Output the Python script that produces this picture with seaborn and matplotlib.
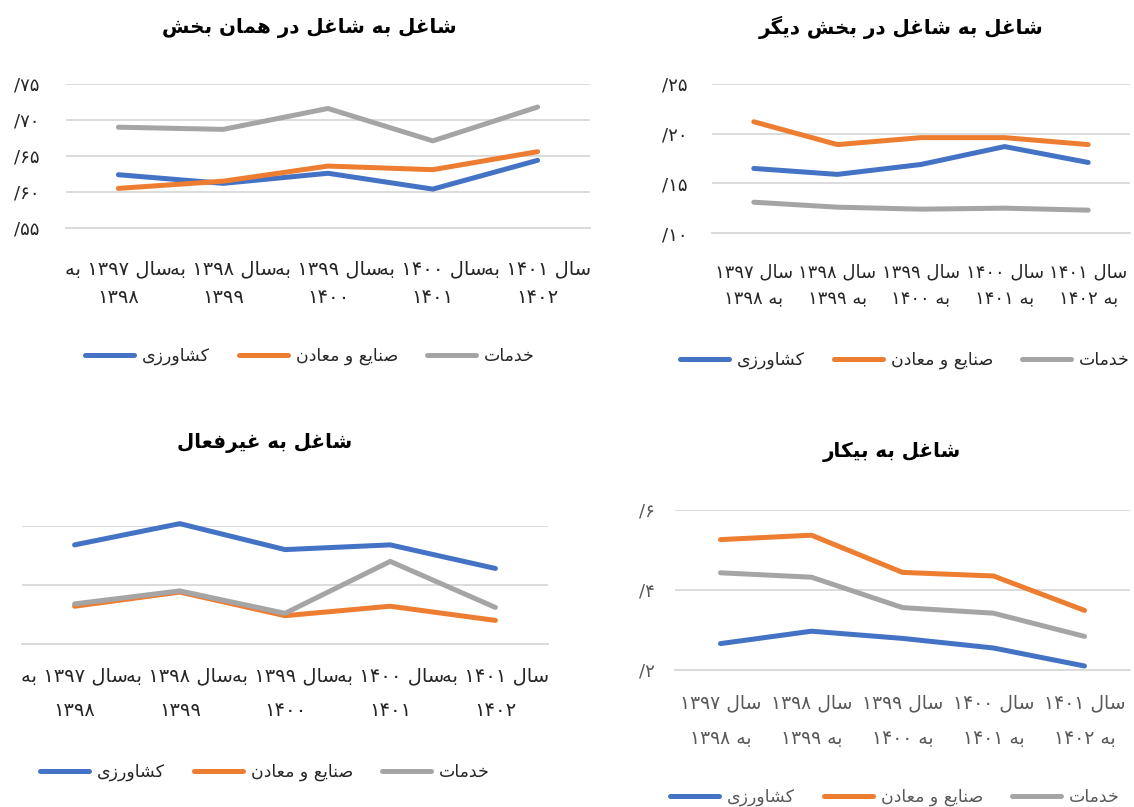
import re
import numpy as np
import matplotlib
matplotlib.use('Agg')
import matplotlib.pyplot as plt
import seaborn as sns

# ---- data ----
categories = ["سال ۱۳۹۷ به ۱۳۹۸", "سال ۱۳۹۸ به ۱۳۹۹", "سال ۱۳۹۹ به ۱۴۰۰",
              "سال ۱۴۰۰ به ۱۴۰۱", "سال ۱۴۰۱ به ۱۴۰۲"]
series_names = ["کشاورزی", "صنایع و معادن", "خدمات"]
colors = ["#4472C4", "#ED7D31", "#A5A5A5"]

same_agri = [62.4, 61.2, 62.6, 60.4, 64.4]
same_ind = [60.5, 61.5, 63.6, 63.1, 65.6]
same_serv = [69.0, 68.7, 71.6, 67.1, 71.8]

other_agri = [16.5, 15.9, 16.9, 18.7, 17.1]
other_ind = [21.2, 18.9, 19.6, 19.6, 18.9]
other_serv = [13.1, 12.6, 12.4, 12.5, 12.3]

inactive_agri = [13.4, 15.2, 13.0, 13.4, 11.4]
inactive_ind = [8.2, 9.4, 7.4, 8.2, 7.0]
inactive_serv = [8.4, 9.5, 7.6, 12.0, 8.1]

unemp_agri = [2.66, 2.97, 2.79, 2.55, 2.10]
unemp_ind = [5.26, 5.37, 4.44, 4.35, 3.49]
unemp_serv = [4.43, 4.32, 3.56, 3.42, 2.84]

titles = ["شاغل به شاغل در همان بخش", "شاغل به شاغل در بخش دیگر",
          "شاغل به غیرفعال", "شاغل به بیکار"]

# ---- minimal persian shaping (no arabic_reshaper available) ----
FORMS = {
    'ا': ('\uFE8D', '\uFE8E', None, None),
    'ب': ('\uFE8F', '\uFE90', '\uFE91', '\uFE92'),
    'ت': ('\uFE95', '\uFE96', '\uFE97', '\uFE98'),
    'خ': ('\uFEA5', '\uFEA6', '\uFEA7', '\uFEA8'),
    'د': ('\uFEA9', '\uFEAA', None, None),
    'ر': ('\uFEAD', '\uFEAE', None, None),
    'ز': ('\uFEAF', '\uFEB0', None, None),
    'س': ('\uFEB1', '\uFEB2', '\uFEB3', '\uFEB4'),
    'ش': ('\uFEB5', '\uFEB6', '\uFEB7', '\uFEB8'),
    'ص': ('\uFEB9', '\uFEBA', '\uFEBB', '\uFEBC'),
    'ع': ('\uFEC9', '\uFECA', '\uFECB', '\uFECC'),
    'غ': ('\uFECD', '\uFECE', '\uFECF', '\uFED0'),
    'ف': ('\uFED1', '\uFED2', '\uFED3', '\uFED4'),
    'ل': ('\uFEDD', '\uFEDE', '\uFEDF', '\uFEE0'),
    'م': ('\uFEE1', '\uFEE2', '\uFEE3', '\uFEE4'),
    'ن': ('\uFEE5', '\uFEE6', '\uFEE7', '\uFEE8'),
    'ه': ('\uFEE9', '\uFEEA', '\uFEEB', '\uFEEC'),
    'و': ('\uFEED', '\uFEEE', None, None),
    'ی': ('\uFBFC', '\uFBFD', '\uFBFE', '\uFBFF'),
    'ک': ('\uFB8E', '\uFB8F', '\uFB90', '\uFB91'),
    'گ': ('\uFB92', '\uFB93', '\uFB94', '\uFB95'),
}
DIGITS = '0-9\u06F0-\u06F9'


def shape(text):
    out = []
    for i, ch in enumerate(text):
        if ch not in FORMS:
            out.append(ch)
            continue
        prev = text[i - 1] if i > 0 else ''
        nxt = text[i + 1] if i + 1 < len(text) else ''
        join_prev = prev in FORMS and FORMS[prev][2] is not None
        join_next = FORMS[ch][2] is not None and nxt in FORMS
        iso, fin, ini, med = FORMS[ch]
        if join_prev and join_next:
            out.append(med)
        elif join_prev:
            out.append(fin)
        elif join_next:
            out.append(ini)
        else:
            out.append(iso)
    return ''.join(out)


def fa(text):
    # shape then lay out right-to-left, keeping digit runs in order
    lines = []
    for line in text.split('\n'):
        parts = re.findall('[' + DIGITS + ']+|[^' + DIGITS + ']+', shape(line))
        parts = [p if re.match('[' + DIGITS + ']', p) else p[::-1] for p in reversed(parts)]
        lines.append(''.join(parts))
    return '\n'.join(lines)


def fa_num(v):
    return str(v).translate(str.maketrans('0123456789', '۰۱۲۳۴۵۶۷۸۹'))


def split_label(lab, mode):
    w = lab.split(' ')  # سال YYYY به YYYY
    if mode == 'a':
        return ' '.join(w[:3]) + '\n' + w[3]
    return ' '.join(w[:2]) + '\n' + ' '.join(w[2:])


sns.set_style('white')
plt.rcParams['font.family'] = ['DejaVu Sans']

W, H = 1134, 807
fig = plt.figure(figsize=(W / 100, H / 100), dpi=100)
xs = np.arange(len(categories))
LW = 3.6
GRID = '#D9D9D9'
PT = 0.72  # points per pixel at dpi 100


def px_rect(x0, x1, ytop, ybot):
    return [x0 / W, 1 - ybot / H, (x1 - x0) / W, (ybot - ytop) / H]


def panel(rect, title, title_xy, data, ylim, yticks, show_y, mode, row1, row2,
          legend_xy, txt_color, ypad, cat_fs):
    ax = fig.add_axes(px_rect(*rect))
    for name, vals, col in zip(series_names, data, colors):
        sns.lineplot(x=xs, y=vals, color=col, linewidth=LW, ax=ax, label=fa(name),
                     solid_capstyle='round', clip_on=False)
    ax.set_xlim(-0.5, len(categories) - 0.5)
    ax.set_ylim(*ylim)
    ax.set_yticks(yticks)
    ax.yaxis.grid(True, color=GRID, linewidth=1.3)
    ax.set_axisbelow(True)
    for s in ['top', 'right', 'left']:
        ax.spines[s].set_visible(False)
    ax.spines['bottom'].set_color(GRID)
    ax.spines['bottom'].set_linewidth(1.3)
    if show_y:
        ax.set_yticklabels(['/' + fa_num(t) for t in yticks], color=txt_color, fontsize=13)
        ax.tick_params(axis='y', length=0, pad=ypad * PT)
    else:
        ax.set_yticklabels([])
        ax.tick_params(axis='y', length=0)
    ax.set_xticks(xs)
    labs = [fa(split_label(c, mode)) for c in categories]
    fs_px = cat_fs / PT
    ax.set_xticklabels(labs, fontsize=cat_fs, color=txt_color,
                       linespacing=1.13 * (row2 - row1) / fs_px)
    ax.tick_params(axis='x', length=0, pad=(row1 + 2 - rect[3] - 0.55 * fs_px) * PT)
    ax.set_xticks(np.arange(-0.5, len(categories)), minor=True)
    ax.tick_params(axis='x', which='minor', length=6, width=1.3, color=GRID, direction='out')
    ax.set_xlabel('')
    ax.set_ylabel('')
    fig.text(title_xy[0] / W, 1 - title_xy[1] / H, fa(title), ha='center', va='center',
             fontsize=14.3, fontweight='bold', color='black')
    leg = ax.legend(loc='center', bbox_to_anchor=(legend_xy[0] / W, 1 - legend_xy[1] / H),
                    bbox_transform=fig.transFigure, ncol=3, frameon=False, fontsize=12.5,
                    handlelength=2.8, handletextpad=0.45, columnspacing=1.7)
    for t in leg.get_texts():
        t.set_color(txt_color)
    for h in leg.legend_handles:
        h.set_linewidth(LW)
        h.set_solid_capstyle('round')
    return ax


panel((66, 590, 84, 228), titles[0], (309, 28), [same_agri, same_ind, same_serv],
      (55, 75), [55, 60, 65, 70, 75], True, 'a', 268, 296, (310, 356), '#262626', 27, 14)
panel((712, 1130, 84, 233), titles[1], (901, 27), [other_agri, other_ind, other_serv],
      (10, 25), [10, 15, 20, 25], True, 'b', 271, 298, (905, 360), '#262626', 25, 13)
panel((22, 548, 526, 644), titles[2], (265, 443), [inactive_agri, inactive_ind, inactive_serv],
      (5, 15), [5, 10, 15], False, 'a', 675, 710, (265, 772), '#262626', 0, 14)
panel((675, 1130, 510, 670), titles[3], (892, 452), [unemp_agri, unemp_ind, unemp_serv],
      (2, 6), [2, 4, 6], True, 'b', 702, 737, (895, 797), '#595959', 20, 13.5)

fig.savefig('out.png', dpi=100)
